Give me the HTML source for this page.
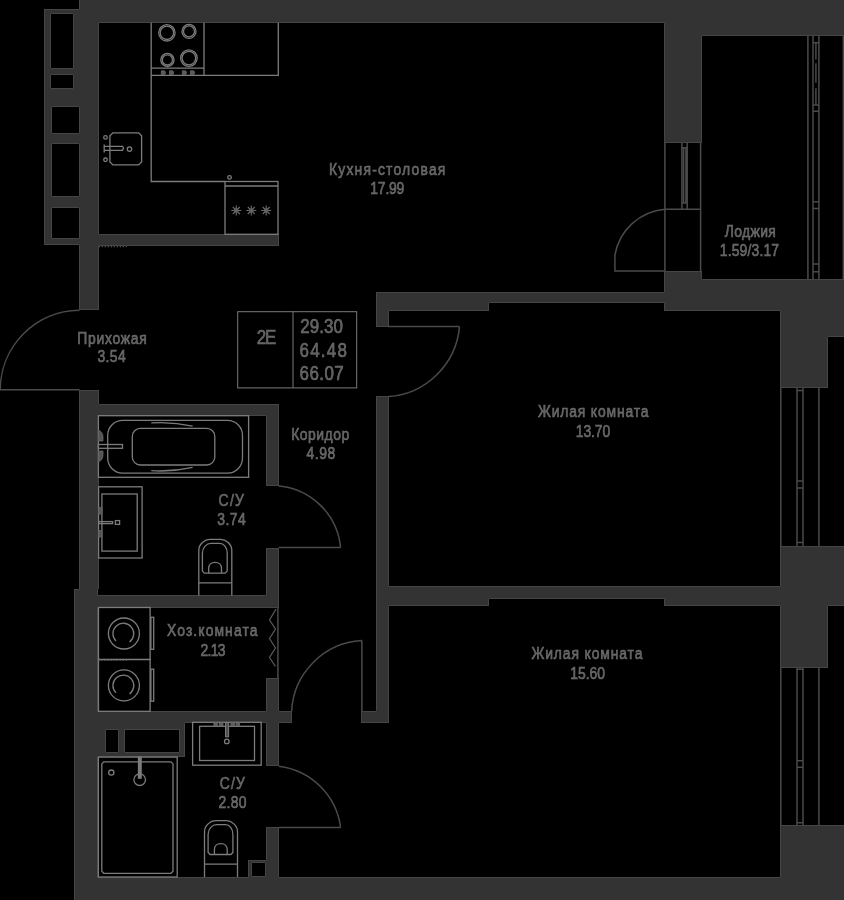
<!DOCTYPE html>
<html><head><meta charset="utf-8"><title>Floor plan</title>
<style>html,body{margin:0;padding:0;background:#000;}svg{display:block;}</style></head>
<body><svg width="844" height="900" viewBox="0 0 844 900">
<rect width="844" height="900" fill="#000"/>
<path fill="#333333" shape-rendering="crispEdges" d="M80 0h764v9h-764zM79 9h765v1h-765zM45 10h799v3h-799zM45 13h6v1h-6zM73 13h771v1h-771zM74 14h770v8h-770zM74 22h25v1h-25zM664 22h180v1h-180zM665 23h179v12h-179zM665 35h37v1h-37zM45 14h5v54h-5zM74 23h24v45h-24zM45 68h6v1h-6zM73 68h25v1h-25zM45 69h53v5h-53zM45 74h6v1h-6zM73 74h25v1h-25zM45 75h5v13h-5zM74 75h24v13h-24zM45 88h6v1h-6zM73 88h25v1h-25zM45 89h53v17h-53zM45 106h7v1h-7zM79 106h19v1h-19zM45 107h6v26h-6zM80 107h18v26h-18zM45 133h7v1h-7zM79 133h19v1h-19zM665 36h36v106h-36zM45 134h53v9h-53zM45 143h7v1h-7zM79 143h19v1h-19zM45 144h6v52h-6zM80 144h18v52h-18zM45 196h7v1h-7zM79 196h19v1h-19zM45 197h53v10h-53zM45 207h7v1h-7zM79 207h19v1h-19zM80 208h18v26h-18zM80 234h19v1h-19zM45 208h6v30h-6zM80 235h198v3h-198zM45 238h7v1h-7zM79 238h199v1h-199zM45 239h233v5h-233zM79 244h199v1h-199zM80 245h19v1h-19zM665 272h36v7h-36zM665 279h37v1h-37zM665 280h179v12h-179zM664 292h180v1h-180zM377 293h467v9h-467zM377 302h112v1h-112zM664 302h180v1h-180zM80 246h18v63h-18zM377 303h111v7h-111zM665 303h179v7h-179zM377 310h12v1h-12zM780 310h64v1h-64zM377 311h11v15h-11zM781 311h63v25h-63zM781 336h47v1h-47zM781 337h46v50h-46zM80 391h18v13h-18zM80 404h19v1h-19zM80 405h198v10h-198zM80 415h19v1h-19zM266 415h12v1h-12zM267 416h11v69h-11zM377 397h11v189h-11zM781 547h63v39h-63zM377 586h12v1h-12zM780 586h64v1h-64zM80 416h18v173h-18zM79 589h18v1h-18zM75 590h22v5h-22zM267 549h11v46h-11zM75 595h23v1h-23zM266 595h12v1h-12zM377 587h467v11h-467zM377 598h112v1h-112zM664 598h180v1h-180zM377 599h111v6h-111zM665 599h179v6h-179zM377 605h12v1h-12zM780 605h48v1h-48zM75 596h203v11h-203zM75 607h23v1h-23zM781 606h46v61h-46zM75 608h22v103h-22zM267 679h11v32h-11zM377 606h11v105h-11zM75 711h23v1h-23zM266 711h13v1h-13zM376 711h12v1h-12zM75 712h216v10h-216zM362 712h26v10h-26zM75 722h110v1h-110zM266 722h13v1h-13zM75 723h109v6h-109zM75 729h31v1h-31zM118 729h7v1h-7zM179 729h5v1h-5zM75 730h30v22h-30zM119 730h5v22h-5zM180 730h4v22h-4zM75 752h31v1h-31zM118 752h7v1h-7zM179 752h5v1h-5zM75 753h109v3h-109zM75 756h23v1h-23zM267 723h11v42h-11zM267 828h11v32h-11zM266 860h12v1h-12zM249 861h29v1h-29zM249 862h3v1h-3zM265 862h13v1h-13zM249 863h2v13h-2zM266 863h12v13h-12zM75 757h22v120h-22zM249 876h3v1h-3zM265 876h13v1h-13zM781 826h63v51h-63zM75 877h23v1h-23zM248 877h31v1h-31zM780 877h64v1h-64zM75 878h769v22h-769z"/>
<path fill="#454545" shape-rendering="crispEdges" d="M79 0h1v9h-1zM44 9h35v1h-35zM51 13h22v1h-22zM99 22h565v1h-565zM702 35h142v1h-142zM50 14h1v54h-1zM73 14h1v54h-1zM51 68h22v1h-22zM51 74h22v1h-22zM50 75h1v13h-1zM73 75h1v13h-1zM51 88h22v1h-22zM52 106h27v1h-27zM51 107h1v26h-1zM79 107h1v26h-1zM52 133h27v1h-27zM664 23h1v119h-1zM701 36h1v106h-1zM664 142h38v1h-38zM52 143h27v1h-27zM51 144h1v52h-1zM79 144h1v52h-1zM52 196h27v1h-27zM52 207h27v1h-27zM98 23h1v211h-1zM99 234h180v1h-180zM51 208h1v30h-1zM79 208h1v30h-1zM52 238h27v1h-27zM44 10h1v234h-1zM44 244h35v1h-35zM278 235h1v10h-1zM99 245h180v1h-180zM664 271h38v1h-38zM701 272h1v7h-1zM702 279h142v1h-142zM664 272h1v20h-1zM376 292h288v1h-288zM489 302h175v1h-175zM79 245h1v64h-1zM98 246h1v63h-1zM79 309h20v1h-20zM488 303h1v7h-1zM664 303h1v7h-1zM389 310h100v1h-100zM664 310h116v1h-116zM376 293h1v33h-1zM388 311h1v15h-1zM376 326h13v1h-13zM828 336h16v1h-16zM780 311h1v76h-1zM827 337h1v50h-1zM780 387h48v1h-48zM79 390h20v1h-20zM376 396h13v1h-13zM98 391h1v13h-1zM99 404h180v1h-180zM99 415h167v1h-167zM266 416h1v69h-1zM278 405h1v80h-1zM266 485h13v1h-13zM780 546h64v1h-64zM266 548h13v1h-13zM388 397h1v189h-1zM780 547h1v39h-1zM389 586h391v1h-391zM79 391h1v198h-1zM98 416h1v173h-1zM74 589h5v1h-5zM97 589h1v6h-1zM266 549h1v46h-1zM98 595h168v1h-168zM489 598h175v1h-175zM488 599h1v6h-1zM664 599h1v6h-1zM389 605h100v1h-100zM664 605h116v1h-116zM828 605h16v1h-16zM278 549h1v58h-1zM98 607h181v1h-181zM780 606h1v61h-1zM827 606h1v61h-1zM780 667h48v1h-48zM266 678h13v1h-13zM97 608h1v103h-1zM266 679h1v32h-1zM278 679h1v32h-1zM376 397h1v314h-1zM98 711h168v1h-168zM279 711h13v1h-13zM361 711h15v1h-15zM291 712h1v10h-1zM361 712h1v10h-1zM388 606h1v116h-1zM185 722h81v1h-81zM279 722h13v1h-13zM361 722h28v1h-28zM106 729h12v1h-12zM125 729h54v1h-54zM105 730h1v22h-1zM118 730h1v22h-1zM124 730h1v22h-1zM179 730h1v22h-1zM106 752h12v1h-12zM125 752h54v1h-54zM184 723h1v33h-1zM98 756h87v1h-87zM266 723h1v42h-1zM278 723h1v42h-1zM266 765h13v1h-13zM780 825h64v1h-64zM266 827h13v1h-13zM266 828h1v32h-1zM248 860h18v1h-18zM252 862h13v1h-13zM251 863h1v13h-1zM265 863h1v13h-1zM97 757h1v120h-1zM248 861h1v16h-1zM252 876h13v1h-13zM278 828h1v49h-1zM780 826h1v51h-1zM98 877h150v1h-150zM279 877h501v1h-501zM74 590h1v310h-1z"/>
<path d="M79.4 310.2A80 80 0 0 0 0.2 389.7L79.4 389.7M664.9 209.2A55.6 55.6 0 0 0 614.9 255L614.9 271L664.9 271M664.9 143L664.9 271M700.6 143L700.6 271M664.9 209.2L700.6 209.2M681.9 143L681.9 209.2M687.2 143L687.2 209.2M683.6 147.8L683.6 203M685.9 147.8L685.9 203M681.9 147.8L687.2 147.8M681.9 203L687.2 203M459.5 326.6A77 77 0 0 1 388.4 396.6M388 326.6L459.5 326.6M278.7 486A68.3 68.3 0 0 1 340.6 547.6M278.7 547.6L340.6 547.6M361.9 640.6A74.5 74.5 0 0 0 291.6 711.2M361.9 640.6L361.9 711.2M278.8 766.2A71 71 0 0 1 340.6 827.5M278.8 827.5L340.6 827.5M277.9 608L277.9 678M807.9 36L807.9 279M813 36L813 279M818.9 36L818.9 279M843.3 36L843.3 279M813 42.8L818.9 42.8M813 105L818.9 105M813 111.2L818.9 111.2M813 201.8L818.9 201.8M813 208.4L818.9 208.4M813 264L818.9 264M813 271.8L818.9 271.8M815.9 43.3V59.4M815.9 63.3V82.8M815.9 88.3V105M780.8 388L780.8 546M797 388L797 546M803 388L803 546M818.9 388L818.9 546M797 390.6L803 390.6M797 480.9L803 480.9M797 487.9L803 487.9M797 542.4L803 542.4M780.8 668L780.8 825M797 668L797 825M803 668L803 825M818.9 668L818.9 825M797 669.3L803 669.3M797 760.8L803 760.8M797 767.2L803 767.2M797 822.7L803 822.7" fill="none" stroke="#4a4a4a" stroke-width="1.5"/>
<g fill="none" stroke="#7c7c7c" stroke-width="1.3">
<path d="M151.2 22.8V181.5H225M151.2 75.4H278.3V22.8M204 22.8V75.4M151.2 68.1H204"/>
<circle cx="166.9" cy="32.8" r="8.200000000000001"/><circle cx="166.9" cy="32.8" r="6.700000000000001"/>
<circle cx="189" cy="31.4" r="7.0"/><circle cx="189" cy="31.4" r="5.5"/>
<circle cx="167.4" cy="59.9" r="6.6000000000000005"/><circle cx="167.4" cy="59.9" r="5.1"/>
<circle cx="188.9" cy="58.1" r="8.3"/><circle cx="188.9" cy="58.1" r="6.800000000000001"/>
<path d="M161.3 70.8H163.8Q165.5 70.8 165.5 72.7Q165.5 74.6 163.8 74.6H161.3Z" fill="#5a5a5a" stroke="#6a6a6a" stroke-width="0.8"/>
<path d="M169.5 70.8H172.0Q173.7 70.8 173.7 72.7Q173.7 74.6 172.0 74.6H169.5Z" fill="#5a5a5a" stroke="#6a6a6a" stroke-width="0.8"/>
<path d="M182.3 70.8H184.8Q186.5 70.8 186.5 72.7Q186.5 74.6 184.8 74.6H182.3Z" fill="#5a5a5a" stroke="#6a6a6a" stroke-width="0.8"/>
<path d="M190.4 70.8H192.9Q194.6 70.8 194.6 72.7Q194.6 74.6 192.9 74.6H190.4Z" fill="#5a5a5a" stroke="#6a6a6a" stroke-width="0.8"/>
<path d="M112.9 132.8H138.6L141.6 135.8V161.9L138.6 164.9H112.9L109.9 161.9V135.8Z"/>
<circle cx="129.5" cy="149.1" r="2.2"/><circle cx="105.5" cy="137.4" r="1.8"/><circle cx="105.5" cy="159.8" r="1.8"/>
<path d="M104.2 144.5V152.5M104.2 146.3H122.5L123.5 148.2L122.5 150.3H104.2"/>
<rect x="225" y="181.5" width="53" height="52.8" rx="0"/><path d="M225 186L278 186"/><circle cx="229.5" cy="177.4" r="1.8"/>
<path d="M231.3 210.5H241.3M236.3 205.5V215.5M232.8 207.0L239.8 214.0M232.8 214.0L239.8 207.0" stroke="#6a6a6a" stroke-width="1.1"/>
<circle cx="236.3" cy="210.5" r="2.3" fill="#606060" stroke="none"/>
<path d="M246.3 210.5H256.3M251.3 205.5V215.5M247.8 207.0L254.8 214.0M247.8 214.0L254.8 207.0" stroke="#6a6a6a" stroke-width="1.1"/>
<circle cx="251.3" cy="210.5" r="2.3" fill="#606060" stroke="none"/>
<path d="M261.2 210.5H271.2M266.2 205.5V215.5M262.7 207.0L269.7 214.0M262.7 214.0L269.7 207.0" stroke="#6a6a6a" stroke-width="1.1"/>
<circle cx="266.2" cy="210.5" r="2.3" fill="#606060" stroke="none"/>
<rect x="98.4" y="415.7" width="150.2" height="61.6" rx="0"/>
<rect x="107.7" y="420.4" width="134.8" height="52.7" rx="15"/>
<rect x="132.3" y="428.4" width="82.5" height="36.6" rx="8"/>
<path d="M151.3 422.9Q172 421.5 192.6 426.1M151.3 470.7Q172 472 192.6 467.3"/>
<rect x="98.4" y="444.5" width="24.1" height="3.8" rx="0"/>
<path d="M98.4 430Q103 432 103 437V441H98.4ZM98.4 462Q103 460 103 455V451H98.4Z" fill="#555" stroke="#666" stroke-width="0.8"/>
<rect x="98.6" y="486.8" width="43.5" height="71.2" rx="0"/><rect x="101.9" y="494" width="35.3" height="57.1" rx="0"/>
<rect x="98.6" y="521.6" width="14.0" height="2.0" rx="0"/><rect x="115.4" y="520.6" width="4.2" height="3.8" rx="0"/>
<path d="M98.6 507.5H102V514H98.6ZM98.6 530.5H102V537H98.6Z" fill="#555" stroke="#666" stroke-width="0.8"/>
<g transform="translate(198.8 539.3)"><path d="M0 56.3V11C0 5 6 0 11 0H22C27 0 33 5 33 11V56.3"/><path d="M0 43.6H33"/><path d="M3.6 31.8V14C3.6 8 8 4.1 12 4.1H21C25 4.1 28.4 8 28.4 14V31.8L26.4 33.9H5.6Z"/><path d="M9.9 33.9V29C9.9 25.5 12.5 23 16.3 23C20.1 23 22.7 25.5 22.7 29V33.9"/></g>
<g transform="translate(204.5 820.6)"><path d="M0 56.3V11C0 5 6 0 11 0H22C27 0 33 5 33 11V56.3"/><path d="M0 43.6H33"/><path d="M3.6 31.8V14C3.6 8 8 4.1 12 4.1H21C25 4.1 28.4 8 28.4 14V31.8L26.4 33.9H5.6Z"/><path d="M9.9 33.9V29C9.9 25.5 12.5 23 16.3 23C20.1 23 22.7 25.5 22.7 29V33.9"/></g>
<rect x="98.5" y="607.5" width="51.6" height="52.0" rx="0"/><rect x="98.5" y="659.5" width="51.6" height="51.8" rx="0"/>
<circle cx="123.9" cy="633.5" r="15.5"/>
<path d="M116 641.0A10.4 10.4 0 1 1 129.5 642.0"/>
<rect x="150.9" y="617.3" width="2.8" height="32.0" rx="0"/>
<circle cx="123.9" cy="685.4" r="15.5"/>
<path d="M116 692.9A10.4 10.4 0 1 1 129.5 693.9"/>
<rect x="150.9" y="669.1999999999999" width="2.8" height="32.0" rx="0"/>
<path d="M276 609L269.5 620L275.5 629L269.5 638.5L275.5 648L269.5 657.5L275.5 666.5" stroke="#5c5c5c" stroke-width="1.2"/>
<rect x="98.4" y="757.1" width="78.8" height="119.9" rx="0"/><path d="M103.8 761.9H171L173 763.9V871.3L171 873.3H103.8L101.8 871.3V763.9Z"/>
<circle cx="139.7" cy="779.7" r="5.8"/><circle cx="111.3" cy="772.6" r="2.6"/>
<rect x="138.5" y="757.1" width="2.6" height="21" fill="#7c7c7c"/>
<rect x="192.6" y="722.3" width="68.6" height="42.9" rx="0"/><rect x="199.6" y="726.3" width="54.9" height="34.2" rx="0"/>
<rect x="225.5" y="722.6" width="3.1" height="14.2" fill="#505050" stroke-width="1"/>
<circle cx="226.8" cy="741.4" r="2.3"/>
<g fill="#5e5e5e" stroke="none"><rect x="213.3" y="722.6" width="4.6" height="3.4"/><rect x="218.8" y="722.6" width="4.6" height="3.4"/><rect x="230.4" y="722.6" width="4.6" height="3.4"/><rect x="235.6" y="722.6" width="4.4" height="3.4"/></g>
<path d="M98.7 246.6H126.8M98.5 660.3H126.6" stroke-dasharray="1.2 1.8" stroke="#5a5a5a"/>
</g>
<rect x="237.7" y="311.7" width="119" height="76.2" fill="none" stroke="#7a7a7a"/><path d="M293 311.7V387.9" stroke="#7a7a7a"/>
<g font-family="Liberation Sans, sans-serif" fill="#5e5e5e" stroke="#747474" stroke-width="0.6" style="filter:grayscale(1)">
<text transform="translate(329.00 174.9) scale(0.82 1)" font-size="17" textLength="141.94" lengthAdjust="spacing">Кухня-столовая</text>
<text transform="translate(370.32 194.0) scale(0.82 1)" font-size="17" textLength="41.50" lengthAdjust="spacing">17.99</text>
<text transform="translate(724.86 236.6) scale(0.82 1)" font-size="17" textLength="62.24" lengthAdjust="spacing">Лоджия</text>
<text transform="translate(719.79 255.8) scale(0.82 1)" font-size="17" textLength="72.29" lengthAdjust="spacing">1.59/3.17</text>
<text transform="translate(77.34 343.5) scale(0.82 1)" font-size="17" textLength="84.64" lengthAdjust="spacing">Прихожая</text>
<text transform="translate(97.40 362.4) scale(0.82 1)" font-size="17" textLength="34.46" lengthAdjust="spacing">3.54</text>
<text transform="translate(256.70 343.8) scale(0.82 1)" font-size="20.7" textLength="23.96" lengthAdjust="spacing">2E</text>
<text transform="translate(300.29 332.8) scale(0.82 1)" font-size="20.7" textLength="52.06" lengthAdjust="spacing">29.30</text>
<text transform="translate(299.53 356.8) scale(0.82 1)" font-size="20.7" textLength="57.81" lengthAdjust="spacing">64.48</text>
<text transform="translate(299.55 380.2) scale(0.82 1)" font-size="20.7" textLength="53.96" lengthAdjust="spacing">66.07</text>
<text transform="translate(291.13 439.6) scale(0.82 1)" font-size="17" textLength="70.81" lengthAdjust="spacing">Коридор</text>
<text transform="translate(306.59 458.7) scale(0.82 1)" font-size="17" textLength="35.01" lengthAdjust="spacing">4.98</text>
<text transform="translate(538.03 416.5) scale(0.82 1)" font-size="17" textLength="134.64" lengthAdjust="spacing">Жилая комната</text>
<text transform="translate(575.84 436.5) scale(0.82 1)" font-size="17" textLength="41.91" lengthAdjust="spacing">13.70</text>
<text transform="translate(218.47 505.8) scale(0.82 1)" font-size="17" textLength="31.11" lengthAdjust="spacing">С/У</text>
<text transform="translate(217.32 524.8) scale(0.82 1)" font-size="17" textLength="34.63" lengthAdjust="spacing">3.74</text>
<text transform="translate(167.05 636.4) scale(0.82 1)" font-size="17" textLength="110.24" lengthAdjust="spacing">Хоз.комната</text>
<text transform="translate(200.56 655.8) scale(0.82 1)" font-size="17" textLength="30.36" lengthAdjust="spacing">2.13</text>
<text transform="translate(531.51 658.5) scale(0.82 1)" font-size="17" textLength="135.31" lengthAdjust="spacing">Жилая комната</text>
<text transform="translate(570.36 678.5) scale(0.82 1)" font-size="17" textLength="42.19" lengthAdjust="spacing">15.60</text>
<text transform="translate(219.66 788.7) scale(0.82 1)" font-size="17" textLength="30.89" lengthAdjust="spacing">С/У</text>
<text transform="translate(218.42 807.7) scale(0.82 1)" font-size="17" textLength="34.29" lengthAdjust="spacing">2.80</text>
</g>
</svg></body></html>
